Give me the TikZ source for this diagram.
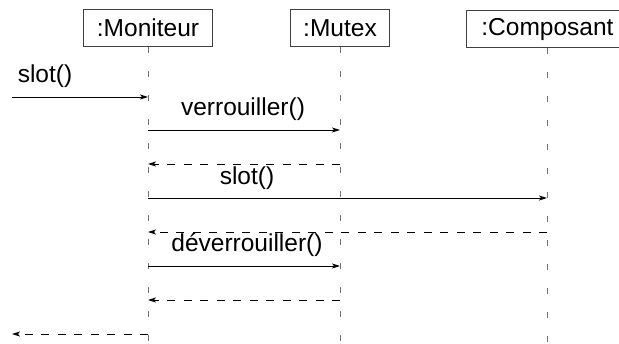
\documentclass[tikz,border=0pt]{standalone}
\usepackage{fontspec}
\setmainfont{Liberation Sans}
\usetikzlibrary{arrows.meta}
\begin{document}
\begin{tikzpicture}[
        x=1pt, y=-1pt,
        objet/.style={draw=black!75, line width=0.9pt, minimum height=37pt, inner xsep=13pt, inner ysep=0pt, font=\fontsize{24.5}{28}\selectfont},
        vie/.style={draw=black!55, line width=1pt, dash pattern=on 6pt off 18pt},
        appel/.style={draw=black, line width=0.8pt, -{Stealth[length=8pt,width=5pt,inset=2pt]}},
        retour/.style={appel, dash pattern=on 8pt off 8.5pt},
        etiq/.style={inner sep=0pt, font=\fontsize{24.5}{28}\selectfont}
    ]
        \useasboundingbox (0,0) rectangle (619,343);

        % Objets
        \node[objet] (mon) at (148,28) {:Moniteur};
        \node[objet] (mut) at (340,28) {:Mutex};
        \node[objet, minimum width=162pt, anchor=west] (comp) at (466,29) {:Composant};

        % Lignes de vie
        \coordinate (monfin) at (148,343);
        \coordinate (mutfin) at (340,343);
        \coordinate (compfin) at (547,343);
        \draw[vie] (mon.south) -- (monfin);
        \draw[vie] (mut.south) -- (mutfin);
        \draw[vie] (comp.south -| compfin) -- (compfin);

        % Points des messages
        \coordinate (entree) at (12,97);
        \coordinate (mon1) at (148,97);
        \coordinate (mon2) at (148,130);
        \coordinate (mut2) at (340,130);
        \coordinate (mon3) at (148,164);
        \coordinate (mut3) at (340,164);
        \coordinate (mon4) at (148,198);
        \coordinate (comp4) at (547,198);
        \coordinate (mon5) at (148,232);
        \coordinate (comp5) at (547,232);
        \coordinate (mon6) at (148,266);
        \coordinate (mut6) at (340,266);
        \coordinate (mon7) at (148,300);
        \coordinate (mut7) at (340,300);
        \coordinate (mon8) at (148,334);
        \coordinate (sortie) at (12,334);

        % Messages
        \draw[appel] (entree) -- (mon1);
        \draw[appel] (mon2) -- (mut2);
        \draw[retour] (mut3) -- (mon3);
        \draw[appel] (mon4) -- (comp4);
        \draw[retour] (comp5) -- (mon5);
        \draw[appel] (mon6) -- (mut6);
        \draw[retour] (mut7) -- (mon7);
        \draw[retour] (mon8) -- (sortie);

        % Etiquettes
        \node[etiq] (l1) at (45,76) {slot()};
        \node[etiq] (l2) at (243,109) {verrouiller()};
        \node[etiq] (l4) at (247,178) {slot()};
        \node[etiq] (l6) at (247,245) {déverrouiller()};
    \end{tikzpicture}
\end{document}
